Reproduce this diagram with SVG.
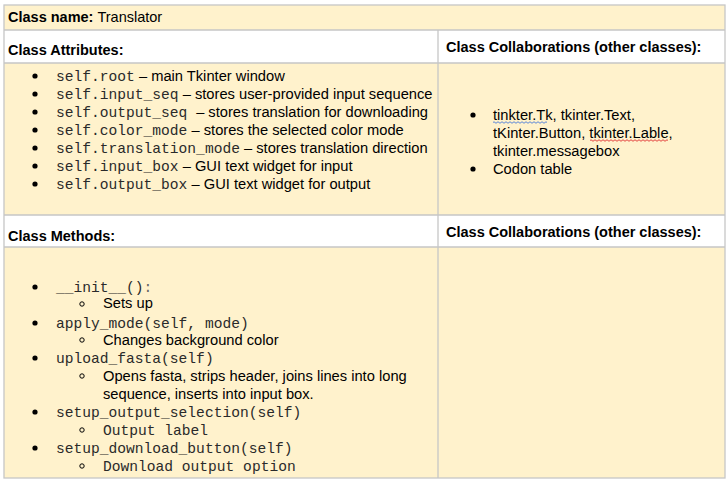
<svg xmlns="http://www.w3.org/2000/svg" width="727" height="484" viewBox="0 0 727 484">
<style>
.y{fill:#fff2cc}
.w{fill:#ffffff}
.ln{stroke:#c6c6c6;stroke-width:1.3;fill:none}
.b{font-family:"Liberation Sans",Arial,sans-serif;font-size:14.5px;font-weight:bold;fill:#000}
.t{font-family:"Liberation Sans",Arial,sans-serif;font-size:14.7px;fill:#000}
.m{font-family:"Liberation Mono","Courier New",monospace;font-size:14.6px;fill:#2a2a2a}
.dot{fill:#000}
.cir{fill:none;stroke:#000;stroke-width:1}
</style>
<rect x="0" y="0" width="727" height="484" fill="#ffffff"/>
<g id="title">
<rect class="y" x="4" y="5" width="721" height="25"/>
<text class="b" x="8" y="22">Class name: <tspan font-weight="normal">Translator</tspan></text>
</g>
<g id="attr-header">
<rect class="w" x="4" y="30" width="434" height="33"/>
<text class="b" x="8" y="55">Class Attributes:</text>
</g>
<g id="collab-header-1">
<rect class="w" x="438" y="30" width="287" height="33"/>
<text class="b" x="446" y="52">Class Collaborations (other classes):</text>
</g>
<g id="attributes">
<rect class="y" x="4" y="63" width="434" height="152"/>
<circle class="dot" cx="35" cy="76" r="2.6"/>
<circle class="dot" cx="35" cy="94" r="2.6"/>
<circle class="dot" cx="35" cy="112" r="2.6"/>
<circle class="dot" cx="35" cy="130" r="2.6"/>
<circle class="dot" cx="35" cy="148" r="2.6"/>
<circle class="dot" cx="35" cy="166" r="2.6"/>
<circle class="dot" cx="35" cy="184" r="2.6"/>
<text x="56" y="81"><tspan class="m">self.root</tspan><tspan class="t"> – main Tkinter window</tspan></text>
<text x="56" y="99"><tspan class="m">self.input_seq</tspan><tspan class="t"> – stores user-provided input sequence</tspan></text>
<text x="56" y="117"><tspan class="m">self.output_seq </tspan><tspan class="t"> – stores translation for downloading</tspan></text>
<text x="56" y="135"><tspan class="m">self.color_mode</tspan><tspan class="t"> – stores the selected color mode</tspan></text>
<text x="56" y="153"><tspan class="m">self.translation_mode</tspan><tspan class="t"> – stores translation direction</tspan></text>
<text x="56" y="171"><tspan class="m">self.input_box</tspan><tspan class="t"> – GUI text widget for input</tspan></text>
<text x="56" y="189"><tspan class="m">self.output_box</tspan><tspan class="t"> – GUI text widget for output</tspan></text>
</g>
<g id="collaborations-1">
<rect class="y" x="438" y="63" width="287" height="152"/>
<circle class="dot" cx="473" cy="115" r="2.6"/>
<circle class="dot" cx="473" cy="169" r="2.6"/>
<text class="t" x="493" y="120">tinkter.Tk, tkinter.Text,</text>
<text class="t" x="493" y="138">tKinter.Button, tkinter.Lable,</text>
<text class="t" x="493" y="156">tkinter.messagebox</text>
<text class="t" x="493" y="174">Codon table</text>
<path d="M493,122.5 q1,-1.5 2,0 t2,0 t2,0 t2,0 t2,0 t2,0 t2,0 t2,0 t2,0 t2,0 t2,0 t2,0 t2,0 t2,0 t2,0 t2,0 t2,0 t2,0 t2,0 t2,0 t2,0 t2,0 t2,0 t2,0 t2,0 t2,0 t2,0" fill="none" stroke="#4a7bd8" stroke-width="0.9"/>
<path d="M590,140.5 q1,-1.5 2,0 t2,0 t2,0 t2,0 t2,0 t2,0 t2,0 t2,0 t2,0 t2,0 t2,0 t2,0 t2,0 t2,0 t2,0 t2,0 t2,0 t2,0 t2,0 t2,0 t2,0 t2,0 t2,0 t2,0 t2,0 t2,0 t2,0 t2,0 t2,0 t2,0 t2,0 t2,0 t2,0 t2,0 t2,0 t2,0 t2,0 t2,0 t2,0" fill="none" stroke="#e03030" stroke-width="0.9"/>
</g>
<g id="methods-header">
<rect class="w" x="4" y="215" width="434" height="32"/>
<text class="b" x="8" y="241">Class Methods:</text>
</g>
<g id="collab-header-2">
<rect class="w" x="438" y="215" width="287" height="32"/>
<text class="b" x="446" y="237">Class Collaborations (other classes):</text>
</g>
<g id="methods">
<rect class="y" x="4" y="247" width="434" height="231"/>
<circle class="dot" cx="35" cy="287" r="2.6"/>
<circle class="dot" cx="35" cy="323" r="2.6"/>
<circle class="dot" cx="35" cy="358" r="2.6"/>
<circle class="dot" cx="35" cy="412" r="2.6"/>
<circle class="dot" cx="35" cy="448" r="2.6"/>
<circle class="cir" cx="82" cy="304" r="2.2"/>
<circle class="cir" cx="82" cy="340" r="2.2"/>
<circle class="cir" cx="82" cy="376" r="2.2"/>
<circle class="cir" cx="82" cy="430" r="2.2"/>
<circle class="cir" cx="82" cy="466" r="2.2"/>
<text class="m" x="56" y="292">__init__()<tspan fill="#666">:</tspan></text>
<text class="t" x="103" y="308">Sets up</text>
<text class="m" x="56" y="328">apply_mode(self, mode)</text>
<text class="t" x="103" y="345">Changes background color</text>
<text class="m" x="56" y="363">upload_fasta(self)</text>
<text class="t" x="103" y="381">Opens fasta, strips header, joins lines into long</text>
<text class="t" x="103" y="399">sequence, inserts into input box.</text>
<text class="m" x="56" y="417">setup_output_selection(self)</text>
<text class="m" x="103" y="435">Output label</text>
<text class="m" x="56" y="453">setup_download_button(self)</text>
<text class="m" x="103" y="471">Download output option</text>
</g>
<g id="collaborations-2">
<rect class="y" x="438" y="247" width="287" height="231"/>
</g>
<g id="connectors" class="ln">
<rect x="4" y="5" width="721" height="473"/>
<line x1="4" y1="30" x2="725" y2="30"/>
<line x1="4" y1="63" x2="725" y2="63"/>
<line x1="4" y1="215" x2="725" y2="215"/>
<line x1="4" y1="247" x2="725" y2="247"/>
<line x1="438" y1="30" x2="438" y2="478"/>
</g>
</svg>
